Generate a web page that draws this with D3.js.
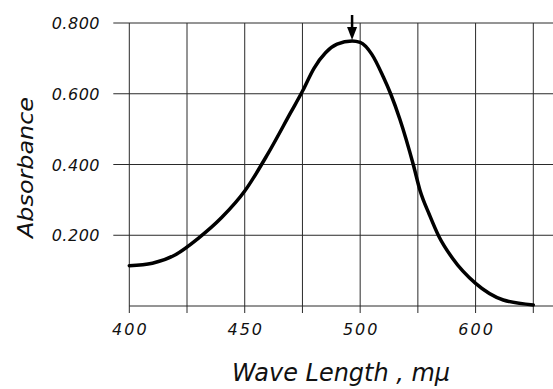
<!DOCTYPE html>
<html>
<head>
<meta charset="utf-8">
<script src="https://cdn.jsdelivr.net/npm/d3@7"></script>
<style>
  body { margin: 0; background: #fff; }
  text { font-family: "DejaVu Sans", sans-serif; font-style: italic; fill: #111; }
</style>
</head>
<body>
<div id="chart"></div>
<script>
// absorbance spectrum
const waveLengths = [400, 410, 420, 430, 440, 450, 460, 470, 475, 480, 485, 490, 496.5, 500, 505, 510, 513.2, 517.2, 523, 526, 530, 534, 540, 550, 562, 575];
const absorbance  = [0.114, 0.121, 0.145, 0.192, 0.250, 0.325, 0.430, 0.548, 0.607, 0.672, 0.716, 0.740, 0.749, 0.745, 0.712, 0.648, 0.600, 0.528, 0.400, 0.325, 0.258, 0.198, 0.135, 0.064, 0.017, 0.003];

const xGrid = [400, 425, 450, 475, 500, 525, 550, 575];
const xTickValues = [400, 450, 500, 550];
const xTickLabels = ["400", "450", "500", "600"];
const yTicks = [0.2, 0.4, 0.6, 0.8];
const peakWave = 496.5;

const width = 553, height = 389;
const svg = d3.select("#chart").append("svg")
    .attr("width", width).attr("height", height);

const x = d3.scaleLinear().domain([400, 575]).range([129.3, 533.3]);
const y = d3.scaleLinear().domain([0, 0.8]).range([306, 23]);

const grid = svg.append("g").attr("stroke", "#2a2a2a").attr("stroke-width", 1);

// vertical grid lines (slightly past baseline)
grid.selectAll(".vline")
    .data(xGrid)
    .enter().append("line")
    .attr("x1", d => x(d)).attr("x2", d => x(d))
    .attr("y1", y(0.8)).attr("y2", y(0) + 7);

// horizontal grid lines, with short ticks left of the axis
grid.selectAll(".hline")
    .data([0].concat(yTicks))
    .enter().append("line")
    .attr("x1", d => d === 0 ? x(400) : x(400) - 16)
    .attr("x2", width)
    .attr("y1", d => y(d)).attr("y2", d => y(d));

// y tick labels
svg.selectAll(".ylab")
    .data(yTicks)
    .enter().append("text")
    .attr("x", 100)
    .attr("y", d => y(d) + 6)
    .attr("text-anchor", "end")
    .style("font-size", "16px")
    .style("letter-spacing", "0.5px")
    .text(d => d.toFixed(3));

// x tick labels
svg.selectAll(".xlab")
    .data(xTickValues)
    .enter().append("text")
    .attr("x", d => x(d) + 1)
    .attr("y", 335)
    .attr("text-anchor", "middle")
    .style("font-size", "16px")
    .style("letter-spacing", "2px")
    .text((d, i) => xTickLabels[i]);

// axis titles
svg.append("text")
    .attr("x", 232).attr("y", 381)
    .attr("textLength", 218)
    .attr("lengthAdjust", "spacingAndGlyphs")
    .style("font-size", "24px")
    .text("Wave Length , mμ");

svg.append("text")
    .attr("transform", `translate(33,238) rotate(-90)`)
    .attr("textLength", 141)
    .attr("lengthAdjust", "spacingAndGlyphs")
    .style("font-size", "22px")
    .text("Absorbance");

// spectrum curve
const pts = waveLengths.map((w, i) => [w, absorbance[i]]);
svg.append("path")
    .datum(pts)
    .attr("fill", "none")
    .attr("stroke", "#000")
    .attr("stroke-width", 3.5)
    .attr("stroke-linecap", "round")
    .attr("d", d3.line().x(d => x(d[0])).y(d => y(d[1])).curve(d3.curveMonotoneX));

// arrow marking the maximum
const ax = x(peakWave);
svg.append("line")
    .attr("x1", ax).attr("x2", ax)
    .attr("y1", 15).attr("y2", 29)
    .attr("stroke", "#000").attr("stroke-width", 2.5);
svg.append("path")
    .attr("d", `M${ax - 5},27 L${ax + 5},27 L${ax},40 Z`)
    .attr("fill", "#000");
</script>
</body>
</html>
